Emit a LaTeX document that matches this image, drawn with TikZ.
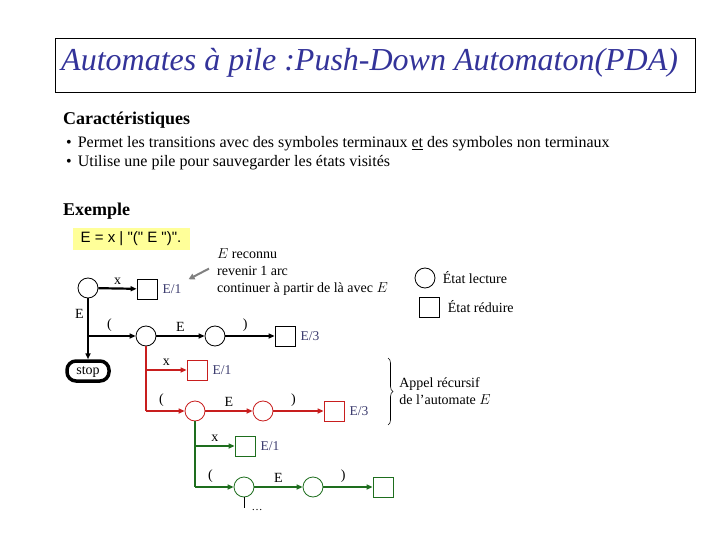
\documentclass[tikz,border=0pt]{standalone}
\usepackage{fontspec}
\setmainfont{Liberation Serif}
\newfontfamily\arialfont{Liberation Sans}
\usepackage{xcolor}
\usepackage{tikz}
\usetikzlibrary{positioning,arrows.meta,decorations.pathreplacing}

\definecolor{titleblue}{RGB}{51,51,153}
\definecolor{labblue}{RGB}{60,60,110}
\definecolor{pdared}{RGB}{200,30,30}
\definecolor{pdagreen}{RGB}{30,110,30}
\definecolor{noteyellow}{RGB}{255,255,153}

\begin{document}
\begin{tikzpicture}[x=1pt,y=-1pt,
  lect/.style={draw,circle,minimum size=20pt,inner sep=0pt,line width=0.8pt},
  redu/.style={draw,rectangle,minimum size=20pt,inner sep=0pt,line width=0.8pt},
  arc/.style={line width=2.2pt,-{Triangle[length=6pt,width=5pt]}},
  trans/.style={font=\fontsize{14}{14}\selectfont,above},
  red1/.style={font=\fontsize{13.5}{13.5}\selectfont,text=labblue,right,inner sep=5pt}]
\useasboundingbox (0,0) rectangle (720,540);

% titre
\draw[line width=0.8pt] (55,38) rectangle (695,92);
\node[anchor=west,inner sep=0pt](title) at (61,63) {\fontsize{32}{32}\selectfont\itshape\color{titleblue}Automates à pile :Push-Down Automaton(PDA)};

% caracteristiques
\node[anchor=base west,inner sep=0pt](carac) at (63,125) {\fontsize{18}{18}\selectfont\bfseries Caractéristiques};
\node[anchor=base west,inner sep=0pt](bul1) at (66,148) {\fontsize{16}{16}\selectfont •\hspace{6pt}Permet les transitions avec des symboles terminaux \underline{et} des symboles non terminaux};
\node[anchor=base west,inner sep=0pt](bul2) at (66,167) {\fontsize{16}{16}\selectfont •\hspace{6pt}Utilise une pile pour sauvegarder les états visités};

\node[anchor=base west,inner sep=0pt](ex) at (63,215) {\fontsize{18}{18}\selectfont\bfseries Exemple};
\node[fill=noteyellow,minimum width=117pt,minimum height=21pt](gram) at (131,239) {\arialfont\fontsize{15}{15}\selectfont E = x | "(" E ")".};

% automate principal
\node[lect](q0) at (88,288) {};
\node[redu](r1) at (147,289) {};
\node[red1](e1) at (r1.east) {E/1};
\coordinate(b1) at (88,336);
\node[lect](q1) at (146,336) {};
\node[lect](q2) at (215,336) {};
\node[redu](r2) at (285,336) {};
\node[red1](e2) at (r2.east) {E/3};
\node[draw,rounded corners=9pt,line width=3.5pt,minimum width=42pt,minimum height=20pt,inner sep=1pt,text depth=0pt,font=\fontsize{14}{14}\selectfont](stop) at (88,371) {stop};

\draw[arc] (q0) -- node[trans]{x} (r1);
\draw[line width=2.2pt] (q0) -- node[trans,left,pos=0.4]{E} (b1);
\draw[arc] (b1) -- (stop);
\draw[arc] (b1) -- node[trans,pos=0.45]{(} (q1);
\draw[arc] (q1) -- node[trans]{E} (q2);
\draw[arc] (q2) -- node[trans,pos=0.4]{)} (r2);

% appel recursif (rouge)
\begin{scope}[pdared]
\coordinate(b2) at (146,370);
\coordinate(b3) at (146,411);
\node[redu](r3) at (197,370) {};
\node[red1](e3) at (r3.east) {E/1};
\node[lect](q3) at (195,411) {};
\node[lect](q4) at (263,411) {};
\node[redu](r4) at (334,411) {};
\node[red1](e4) at (r4.east) {E/3};
\draw[line width=1.5pt] (q1) -- (b3);
\draw[arc,line width=1.5pt] (b2) -- node[trans,text=black]{x} (r3);
\draw[arc,line width=1.5pt] (b3) -- node[trans,text=black,pos=0.4]{(} (q3);
\draw[arc,line width=1.5pt] (q3) -- node[trans,text=black]{E} (q4);
\draw[arc,line width=1.5pt] (q4) -- node[trans,text=black,pos=0.4]{)} (r4);
\end{scope}

% appel recursif (vert)
\begin{scope}[pdagreen]
\coordinate(b4) at (195,446);
\coordinate(b5) at (195,487);
\node[redu](r5) at (245,446) {};
\node[red1](e5) at (r5.east) {E/1};
\node[lect](q5) at (244,487) {};
\node[lect](q6) at (313,487) {};
\node[redu](r6) at (383,487) {};
\draw[line width=1.5pt] (q3) -- (b5);
\draw[arc,line width=1.5pt] (b4) -- node[trans,text=black]{x} (r5);
\draw[arc,line width=1.5pt] (b5) -- node[trans,text=black,pos=0.4]{(} (q5);
\draw[arc,line width=1.5pt] (q5) -- node[trans,text=black]{E} (q6);
\draw[arc,line width=1.5pt] (q6) -- node[trans,text=black,pos=0.4]{)} (r6);
\end{scope}
\coordinate(suite) at (244,508);
\draw[line width=1pt] (q5) -- (suite);
\node(dots) at (257,510) {\fontsize{11}{11}\selectfont\dots};

% commentaires
\node[anchor=north west,align=left,inner sep=0pt,font=\fontsize{14}{17}\selectfont](note) at (217,248) {$E$ reconnu\\revenir 1 arc\\continuer à partir de là avec $E$};
\draw[gray,line width=2pt,-{Triangle[length=6pt,width=6pt]}] ([xshift=-8pt,yshift=3pt]note.west) -- ([xshift=2pt]e1.north east);

\node[lect](leg1) at (425,278) {};
\node[right=4pt of leg1,font=\fontsize{14}{14}\selectfont](t1) {État lecture};
\node[redu](leg2) at (429,307) {};
\node[right=5pt of leg2,font=\fontsize{14}{14}\selectfont](t2) {État réduire};

\draw[decorate,decoration={brace,amplitude=5pt},line width=0.6pt] (388,358) -- (388,425);
\node[align=left,font=\fontsize{14}{17}\selectfont](appel) at (445,391) {Appel récursif\\de l'automate $E$};
\end{tikzpicture}
\end{document}
